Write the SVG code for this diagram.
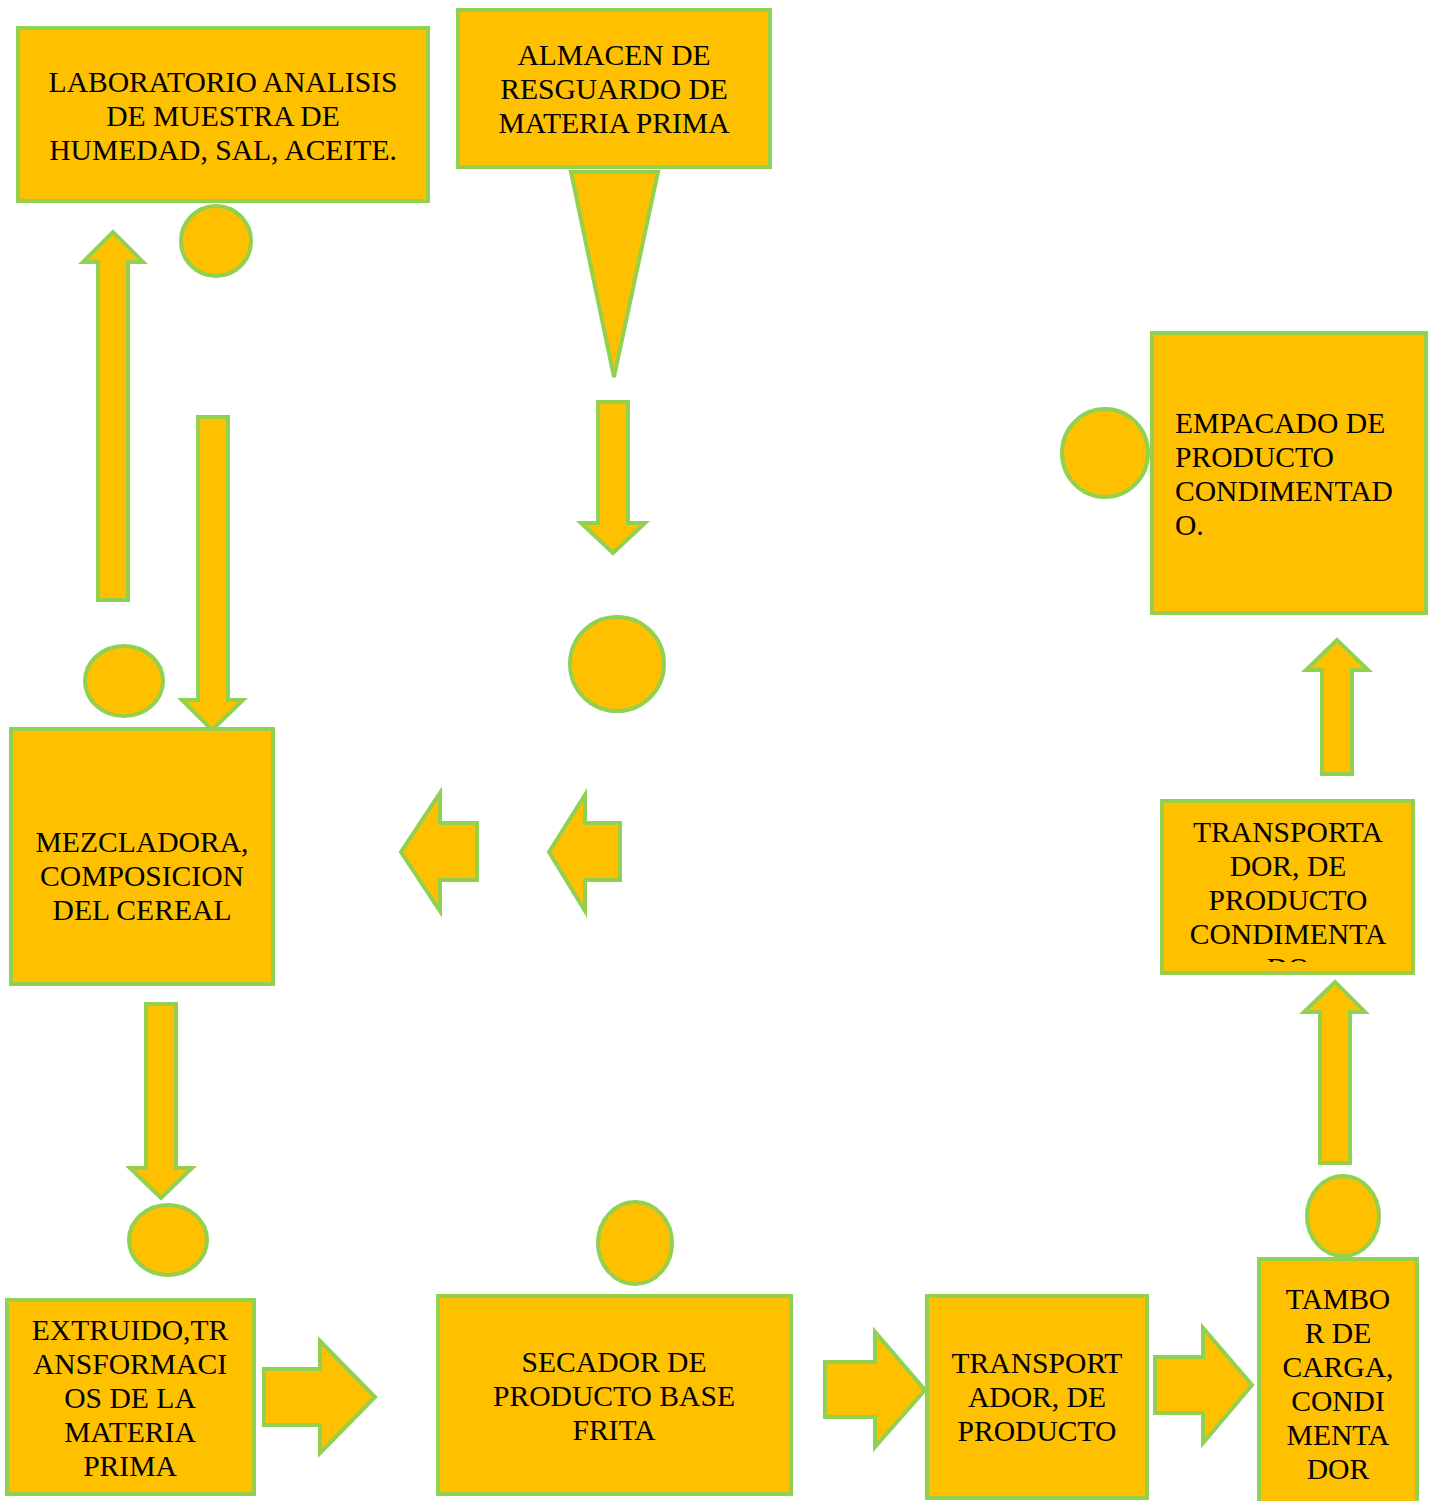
<svg xmlns="http://www.w3.org/2000/svg" width="1434" height="1501" viewBox="0 0 1434 1501">
<style>
.s{fill:#FFC000;stroke:#92D050;stroke-width:4}
.t{font-family:"Liberation Serif","Times New Roman",serif;font-size:29.6px;fill:#000;text-anchor:middle}
.l{text-anchor:start}
</style>
<defs>
<clipPath id="c1"><rect x="1164" y="803" width="247" height="159"/></clipPath>
</defs>
<rect width="1434" height="1501" fill="#fff"/>
<g id="connectors">
<polygon class="s" points="98,600 98,262 83,262 113,232 143,262 128,262 128,600"/>
<polygon class="s" points="198,417 228,417 228,700 243,700 212,730 182,700 198,700"/>
<polygon class="s" points="571,172 658,172 614,377"/>
<polygon class="s" points="598,402 628,402 628,523 645,523 613,553 581,523 598,523"/>
<polygon class="s" points="477,823 477,880 440,880 440,911 401,852 440,793 440,823"/>
<polygon class="s" points="620,823 620,880 585,880 585,911 549,852 585,795 585,823"/>
<polygon class="s" points="146,1004 176,1004 176,1168 192,1168 161,1198 130,1168 146,1168"/>
<polygon class="s" points="264,1369 320,1369 320,1341 375,1397 320,1453 320,1425 264,1425"/>
<polygon class="s" points="825,1362 875,1362 875,1332 925,1390 875,1447 875,1417 825,1417"/>
<polygon class="s" points="1155,1357 1203,1357 1203,1328 1252,1385 1203,1443 1203,1413 1155,1413"/>
<polygon class="s" points="1320,1163 1320,1012 1304,1012 1335,982 1365,1012 1350,1012 1350,1163"/>
<polygon class="s" points="1322,774 1322,670 1306,670 1337,640 1368,670 1352,670 1352,774"/>
</g>
<g id="circles">
<ellipse class="s" cx="216" cy="241" rx="35" ry="35"/>
<ellipse class="s" cx="124" cy="681" rx="39" ry="35"/>
<ellipse class="s" cx="617" cy="664" rx="47" ry="47"/>
<ellipse class="s" cx="168" cy="1240" rx="39" ry="35"/>
<ellipse class="s" cx="635" cy="1243" rx="37" ry="41"/>
<ellipse class="s" cx="1343" cy="1216" rx="36" ry="40"/>
<ellipse class="s" cx="1105" cy="453" rx="43" ry="44"/>
</g>
<g id="lab">
<rect class="s" x="18" y="28" width="410" height="173"/>
<text class="t" x="223" y="92">LABORATORIO ANALISIS</text>
<text class="t" x="223" y="126">DE MUESTRA DE</text>
<text class="t" x="223" y="160">HUMEDAD, SAL, ACEITE.</text>
</g>
<g id="almacen">
<rect class="s" x="458" y="10" width="312" height="157"/>
<text class="t" x="614" y="65">ALMACEN DE</text>
<text class="t" x="614" y="99">RESGUARDO DE</text>
<text class="t" x="614" y="133">MATERIA PRIMA</text>
</g>
<g id="empacado">
<rect class="s" x="1152" y="333" width="274" height="280"/>
<text class="t l" x="1175" y="433">EMPACADO DE</text>
<text class="t l" x="1175" y="467">PRODUCTO</text>
<text class="t l" x="1175" y="501">CONDIMENTAD</text>
<text class="t l" x="1175" y="535">O.</text>
</g>
<g id="mezcladora">
<rect class="s" x="11" y="729" width="262" height="255"/>
<text class="t" x="142" y="852">MEZCLADORA,</text>
<text class="t" x="142" y="886">COMPOSICION</text>
<text class="t" x="142" y="920">DEL CEREAL</text>
</g>
<g id="transp-cond">
<rect class="s" x="1162" y="801" width="251" height="172"/>
<g clip-path="url(#c1)">
<text class="t" x="1288" y="842">TRANSPORTA</text>
<text class="t" x="1288" y="876">DOR, DE</text>
<text class="t" x="1288" y="910">PRODUCTO</text>
<text class="t" x="1288" y="944">CONDIMENTA</text>
<text class="t" x="1288" y="978">DO</text>
</g>
</g>
<g id="extruido">
<rect class="s" x="7" y="1300" width="247" height="194"/>
<text class="t" x="130" y="1340">EXTRUIDO,TR</text>
<text class="t" x="130" y="1374">ANSFORMACI</text>
<text class="t" x="130" y="1408">OS DE LA</text>
<text class="t" x="130" y="1442">MATERIA</text>
<text class="t" x="130" y="1476">PRIMA</text>
</g>
<g id="secador">
<rect class="s" x="438" y="1296" width="353" height="198"/>
<text class="t" x="614" y="1372">SECADOR DE</text>
<text class="t" x="614" y="1406">PRODUCTO BASE</text>
<text class="t" x="614" y="1440">FRITA</text>
</g>
<g id="transportador">
<rect class="s" x="927" y="1296" width="220" height="202"/>
<text class="t" x="1037" y="1373">TRANSPORT</text>
<text class="t" x="1037" y="1407">ADOR, DE</text>
<text class="t" x="1037" y="1441">PRODUCTO</text>
</g>
<g id="tambor">
<rect class="s" x="1259" y="1259" width="158" height="250"/>
<text class="t" x="1338" y="1309">TAMBO</text>
<text class="t" x="1338" y="1343">R DE</text>
<text class="t" x="1338" y="1377">CARGA,</text>
<text class="t" x="1338" y="1411">CONDI</text>
<text class="t" x="1338" y="1445">MENTA</text>
<text class="t" x="1338" y="1479">DOR</text>
</g>
</svg>
